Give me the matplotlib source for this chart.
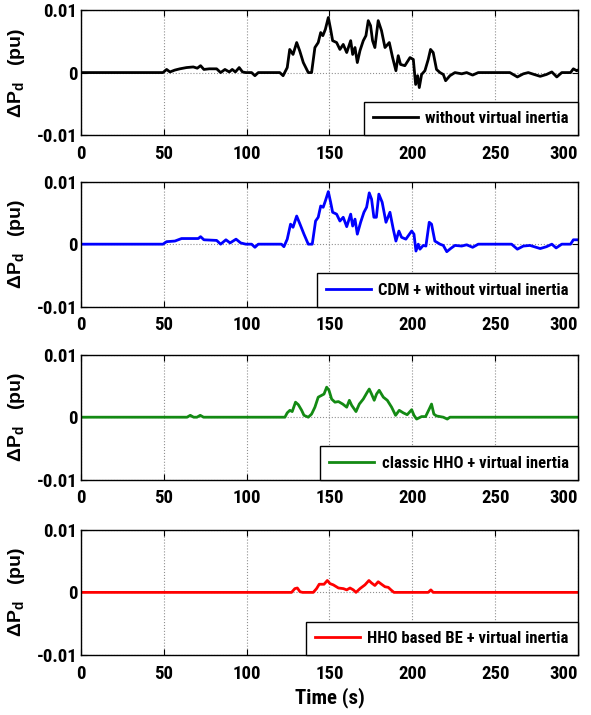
import matplotlib
matplotlib.use("Agg")
from matplotlib import pyplot as plt

plt.rcParams['font.family'] = ['Roboto Condensed', 'Asap Condensed', 'Liberation Sans', 'DejaVu Sans']
plt.rcParams['font.weight'] = 'bold'
plt.rcParams['mathtext.fontset'] = 'custom'
plt.rcParams['mathtext.rm'] = 'Liberation Sans:bold'
plt.rcParams['mathtext.bf'] = 'Liberation Sans:bold'
plt.rcParams['mathtext.it'] = 'Liberation Sans:bold'

# frequency deviation traces, time in s, value in pu
t_black = [0, 49.5, 51.7, 53.7, 56.7, 59.7, 63.7, 67.8, 70.2, 72.2, 74.2, 77.5, 81.9, 84.3,
           86.9, 89.5, 91.3, 93.2, 95.5, 97.5, 99.5, 103, 105, 107, 120, 122, 124.5, 126,
           128, 130.2, 132, 134.2, 137.2, 139.2, 141.2, 143.2, 144.7, 146, 147.5, 149.3,
           150.7, 151.9, 154.3, 156.3, 158.3, 160.4, 162.8, 164, 165.4, 166.8, 168.4,
           170.4, 172, 173.4, 174.8, 176, 177.4, 179.4, 181.4, 183.5, 186.1, 188.1, 190.1,
           191.5, 192.9, 195.5, 198.6, 200.6, 202, 203.2, 204.2, 205.6, 207.6, 209.6, 211,
           212.6, 214.6, 216.7, 218.7, 220.1, 222.7, 225.7, 229.8, 232.8, 236.4, 239.8,
           258.9, 263.4, 267, 270, 273.5, 277.2, 281, 284.2, 287.2, 290.2, 295.5, 297.2, 299.2, 300]
p_black = [0, 0, 0.0005, 0.0001, 0.0004, 0.0006, 0.0008, 0.0009, 0.0007, 0.0011, 0.0005,
           0.0006, 0.0006, 0, 0.0005, 0.0001, 0.0005, 0.0001, 0.0008, 0.0001, 0, 0, -0.0005,
           0, 0, -0.0005, 0.0008, 0.0037, 0.0029, 0.0048, 0.0035, 0.0016, 0, 0, 0.004,
           0.0048, 0.0064, 0.0059, 0.0069, 0.0088, 0.0069, 0.0051, 0.0048, 0.0037, 0.0045,
           0.0032, 0.0051, 0.0029, 0.004, 0.0016, 0.0035, 0.0051, 0.0059, 0.0083, 0.0075,
           0.0051, 0.004, 0.0083, 0.0067, 0.004, 0.0048, 0.0024, 0.0003, 0.0027, 0.0013,
           0.0011, 0.0024, 0.0021, -0.0019, -0.0005, -0.0024, -0.0003, 0.0003, 0.0021,
           0.0037, 0.0032, 0.0005, 0, -0.0003, -0.0013, -0.0005, 0, -0.0002, 0, -0.0004, 0,
           0, -0.0007, -0.0002, 0, -0.0003, -0.0006, -0.0003, 0.0001, -0.0007, 0, 0, 0.0006,
           0.0003, 0.0004]

t_blue = [0, 49.5, 51.7, 56.7, 60.7, 70.8, 72.2, 74.2, 81.9, 84.3, 87.5, 90, 93.6, 96.4,
          99.5, 103, 105, 107, 121, 122.5, 124.5, 126.5, 128, 130.2, 132.2, 134.6, 137.2,
          139.6, 141.6, 143.2, 144.7, 146.2, 147.5, 149.3, 150.7, 151.9, 154.3, 156.3,
          158.3, 160.4, 162.8, 164, 165.4, 166.8, 168.8, 170.8, 172.4, 174, 175.4, 176.8,
          178.3, 179.8, 181.8, 184.1, 186.5, 188.5, 190.1, 191.9, 193.5, 196.1, 199.6, 201,
          202.2, 203.6, 204.6, 206.6, 208.2, 210.2, 211.6, 213.6, 216.7, 218.7, 220.8,
          223.1, 225.7, 229.8, 232.8, 236.4, 239.8, 259.9, 263.4, 267, 271, 277.2, 281,
          284.2, 286.8, 290.2, 295.5, 297.2, 300]
p_blue = [0, 0, 0.0004, 0.0005, 0.0009, 0.0009, 0.0012, 0.0007, 0.0006, 0, 0.0007, 0.0002,
          0.0008, 0.0002, 0, 0, -0.0005, 0, 0, -0.0004, 0.0008, 0.0032, 0.0027, 0.0045,
          0.0032, 0.0016, 0, 0, 0.0037, 0.0043, 0.0061, 0.0059, 0.0069, 0.0084, 0.0067,
          0.0051, 0.0048, 0.0037, 0.0043, 0.0028, 0.0048, 0.0029, 0.004, 0.0016, 0.0035,
          0.0051, 0.0059, 0.0082, 0.0072, 0.0043, 0.0043, 0.008, 0.0067, 0.0035, 0.0051,
          0.0024, 0.0005, 0.0021, 0.0011, 0.0008, 0.0021, 0.0016, -0.0011, 0, -0.0008,
          -0.0002, -0.0003, 0.0035, 0.0032, 0.0005, 0, -0.0002, -0.0012, -0.0007, -0.0002,
          -0.0003, -0.0001, -0.0005, 0, 0, -0.0008, -0.0003, -0.0002, -0.0007, -0.0004, 0,
          -0.0006, 0, 0, 0.0007, 0.0007]

t_green = [0, 64, 66, 68, 70, 72, 74, 123.1, 124.5, 126.1, 127.5, 129.5, 131.2, 133.2,
           134.6, 137.2, 139.2, 141.2, 143.2, 145.3, 146.7, 148.3, 149.7, 151.3, 153.3,
           155.4, 158, 160.4, 162, 163.4, 166, 168, 170.4, 172.8, 174, 175.4, 177, 178.4,
           180, 182.5, 184.9, 187.5, 189.9, 192.1, 194.5, 196.9, 199.6, 201, 202.6, 205.6,
           208, 210.2, 211.6, 213, 214.6, 218.7, 221.1, 222.7, 300]
p_green = [0, 0, 0.0003, 0, 0, 0.0003, 0, 0, 0.0007, 0.0011, 0.0009, 0.0024, 0.002, 0.0011,
           0.0003, 0, 0.0005, 0.0016, 0.0032, 0.0035, 0.0037, 0.0048, 0.0043, 0.0029,
           0.0024, 0.0025, 0.0021, 0.0016, 0.0027, 0.0019, 0.0009, 0.0021, 0.0029, 0.004,
           0.0045, 0.0037, 0.0027, 0.0037, 0.0043, 0.0032, 0.0027, 0.0016, 0.0003, 0.0011,
           0.0007, 0.0004, 0.0012, 0.0003, -0.0003, 0.0001, 0.0001, 0.0013, 0.0021, 0.0005,
           0.0002, 0, -0.0003, 0, 0]

t_red = [0, 127.1, 129.1, 130.6, 132.2, 133.8, 140.2, 142.2, 143.8, 146.7, 148.7, 150.3,
         152.3, 155.4, 158.4, 160.4, 162.4, 164.4, 166, 168.4, 171.4, 173.8, 175.4, 177.4,
         179.4, 181.4, 183.5, 185.5, 187.1, 188.9, 209.6, 211.2, 212.6, 300]
p_red = [0, 0, 0.0006, 0.0007, 0.0001, 0, 0, 0.0006, 0.0013, 0.0013, 0.0019, 0.0014, 0.0012,
         0.0007, 0.0006, 0.0004, 0.0007, 0.0004, 0, 0.0006, 0.0012, 0.0019, 0.0015, 0.0011,
         0.0017, 0.0013, 0.0009, 0.0008, 0.0004, 0, 0, 0.0004, 0, 0]

series = [
    (t_black, p_black, 'black', 'without virtual inertia'),
    (t_blue, p_blue, 'blue', 'CDM + without virtual inertia'),
    (t_green, p_green, '#138a13', 'classic HHO + virtual inertia'),
    (t_red, p_red, 'red', 'HHO based BE + virtual inertia'),
]

x_ticks = [0, 50, 100, 150, 200, 250, 300]
y_ticks = [-0.01, 0, 0.01]
y_tick_labels = ['-0.01', '0', '0.01']

fig = plt.figure(figsize=(5.91, 7.15), dpi=100)
bottoms = [0.811, 0.571, 0.329, 0.084]

for (t, p, col, name), b in zip(series, bottoms):
    ax = fig.add_axes([0.137, b, 0.841, 0.175])
    ax.plot(t, p, color=col, lw=2.0, label=name)
    ax.set_xlim(0, 300)
    ax.set_ylim(-0.01, 0.01)
    ax.set_xticks(x_ticks)
    ax.set_yticks(y_ticks)
    ax.set_yticklabels(y_tick_labels)
    ax.grid(True, color='#909090', linestyle=':', linewidth=0.8)
    ax.tick_params(direction='in', top=True, right=True, length=4, labelsize=13.5)
    ax.tick_params(axis='x', pad=7)
    ax.tick_params(axis='y', pad=2.5)
    # keep the last time label inside the figure
    ax.get_xticklabels()[-1].set_horizontalalignment('right')
    for s in ax.spines.values():
        s.set_linewidth(1.0)
    ax.set_ylabel(r'$\Delta P_d$   (pu)', fontsize=14, family='Liberation Sans',
                  fontweight='bold')
    ax.yaxis.set_label_coords(-0.108, 0.5)
    leg = ax.legend(loc='lower right', borderaxespad=0, fancybox=False,
                    edgecolor='black', framealpha=1, handlelength=2.7,
                    handletextpad=0.45, borderpad=0.55,
                    prop={'size': 12, 'weight': 'bold'})
    leg.get_frame().set_linewidth(1.0)
    if b == bottoms[-1]:
        ax.set_xlabel('Time (s)', fontsize=15, fontweight='bold', labelpad=3)

fig.savefig('out.png', dpi=100)
